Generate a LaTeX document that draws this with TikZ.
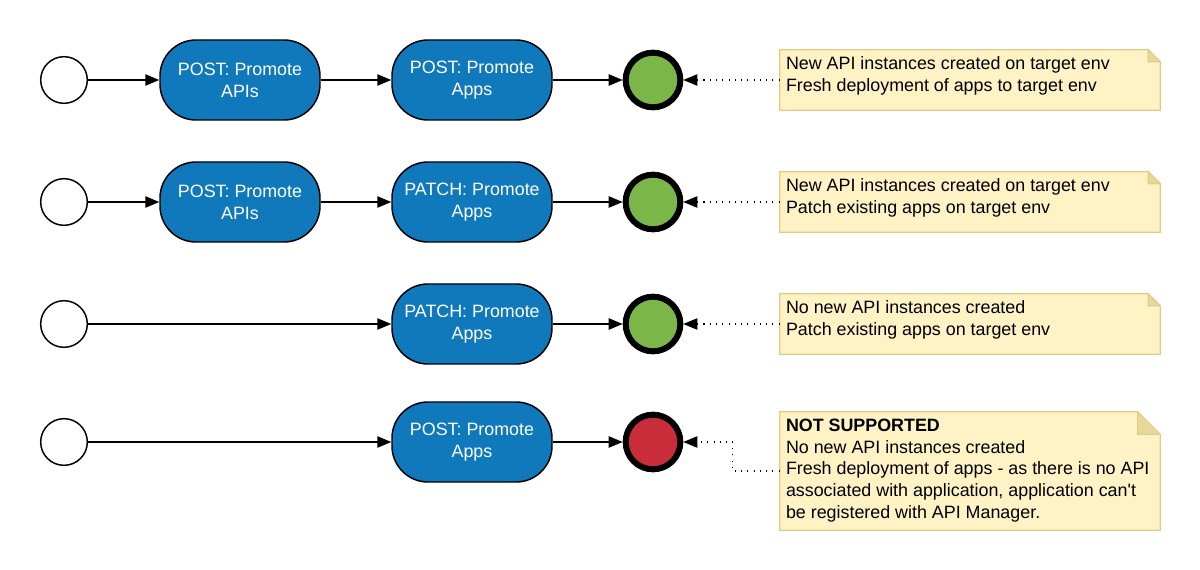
\documentclass[tikz,border=0pt]{standalone}
\usepackage{fontspec}
\setmainfont{Liberation Sans}
\usetikzlibrary{arrows.meta}
\definecolor{taskblue}{HTML}{1079BB}
\definecolor{okgreen}{HTML}{7AB648}
\definecolor{failred}{HTML}{C92D39}
\definecolor{notefill}{HTML}{FFF2C4}
\definecolor{noteline}{HTML}{E0CC86}
\definecolor{notefold}{HTML}{E8D898}
\begin{document}
\begin{tikzpicture}[x=0.75pt, y=-0.75pt, >={Triangle[length=10.5pt,width=8.5pt]}]
\tikzstyle{start}=[draw, circle, line width=1.1pt, fill=white, minimum size=35pt, inner sep=0pt]
\tikzstyle{stop}=[draw, circle, line width=4.5pt, minimum size=41pt, inner sep=0pt]
\tikzstyle{task}=[draw, line width=1.1pt, fill=taskblue, rounded corners=27pt, minimum width=120pt, minimum height=60pt, text=white, align=center, font=\fontsize{13.4}{16.5}\selectfont]
\tikzstyle{note}=[minimum width=285pt, inner sep=0pt]
\tikzstyle{notetext}=[anchor=north west, align=left, inner sep=0pt, font=\fontsize{13.4}{16.4}\selectfont]
\tikzstyle{flow}=[->, line width=1.1pt]
\tikzstyle{hint}=[->, line width=1pt, dash pattern=on 0.8pt off 3.9pt]

\useasboundingbox (0,0) rectangle (1200,570);

\node[start](s1)              at ( 64,  80) {} ;
\node[task](promoteapis1)     at (240,  80) {POST: Promote\\APIs} ;
\node[task](promoteapps1)     at (472,  80) {POST: Promote\\Apps} ;
\node[stop, fill=okgreen](e1) at (653,  80) {} ;
\node[note, minimum height=45pt](n1) at (970, 80) {} ;

\node[start](s2)              at ( 64, 202) {} ;
\node[task](promoteapis2)     at (240, 202) {POST: Promote\\APIs} ;
\node[task](patchapps2)       at (472, 202) {PATCH: Promote\\Apps} ;
\node[stop, fill=okgreen](e2) at (653, 202) {} ;
\node[note, minimum height=45pt](n2) at (970, 202) {} ;

\node[start](s3)              at ( 64, 324) {} ;
\node[task](patchapps3)       at (472, 324) {PATCH: Promote\\Apps} ;
\node[stop, fill=okgreen](e3) at (653, 324) {} ;
\node[note, minimum height=45pt](n3) at (970, 324) {} ;

\node[start](s4)              at ( 64, 442) {} ;
\node[task](promoteapps4)     at (472, 442) {POST: Promote\\Apps} ;
\node[stop, fill=failred](e4) at (653, 442) {} ;
\node[note, minimum height=88.5pt](n4) at (970, 471) {} ;

\foreach \n/\f in {n1/9pt, n2/9pt, n3/9pt, n4/17pt} {
  \draw[fill=notefill, draw=noteline, line width=0.8pt] (\n.north west) -- ([xshift=-\f]\n.north east)
    -- ([yshift=-\f]\n.north east) -- (\n.south east) -- (\n.south west) -- cycle;
  \draw[fill=notefold, draw=noteline, line width=0.8pt] ([xshift=-\f]\n.north east)
    -- ([xshift=-\f, yshift=-\f]\n.north east) -- ([yshift=-\f]\n.north east) -- cycle;
}

\node[notetext] at ([xshift=4.5pt, yshift=-5pt]n1.north west) {New API instances created on target env\\Fresh deployment of apps to target env} ;
\node[notetext] at ([xshift=4.5pt, yshift=-5pt]n2.north west) {New API instances created on target env\\Patch existing apps on target env} ;
\node[notetext] at ([xshift=4.5pt, yshift=-5pt]n3.north west) {No new API instances created\\Patch existing apps on target env} ;
\node[notetext] at ([xshift=4.5pt, yshift=-5pt]n4.north west) {\textbf{NOT SUPPORTED}\\No new API instances created\\Fresh deployment of apps - as there is no API\\associated with application, application can\textquotesingle t\\be registered with API Manager.} ;

\draw[flow] (s1) -- (promoteapis1) ;
\draw[flow] (promoteapis1) -- (promoteapps1) ;
\draw[flow] (promoteapps1) -- (e1) ;
\draw[hint] (n1.west) -- (e1) ;

\draw[flow] (s2) -- (promoteapis2) ;
\draw[flow] (promoteapis2) -- (patchapps2) ;
\draw[flow] (patchapps2) -- (e2) ;
\draw[hint] (n2.west) -- (e2) ;

\draw[flow] (s3) -- (patchapps3) ;
\draw[flow] (patchapps3) -- (e3) ;
\draw[hint] (n3.west) -- (e3) ;

\draw[flow] (s4) -- (promoteapps4) ;
\draw[flow] (promoteapps4) -- (e4) ;
\draw[hint] (n4.west) -- ++(-47, 0) |- (e4) ;
\end{tikzpicture}
\end{document}
